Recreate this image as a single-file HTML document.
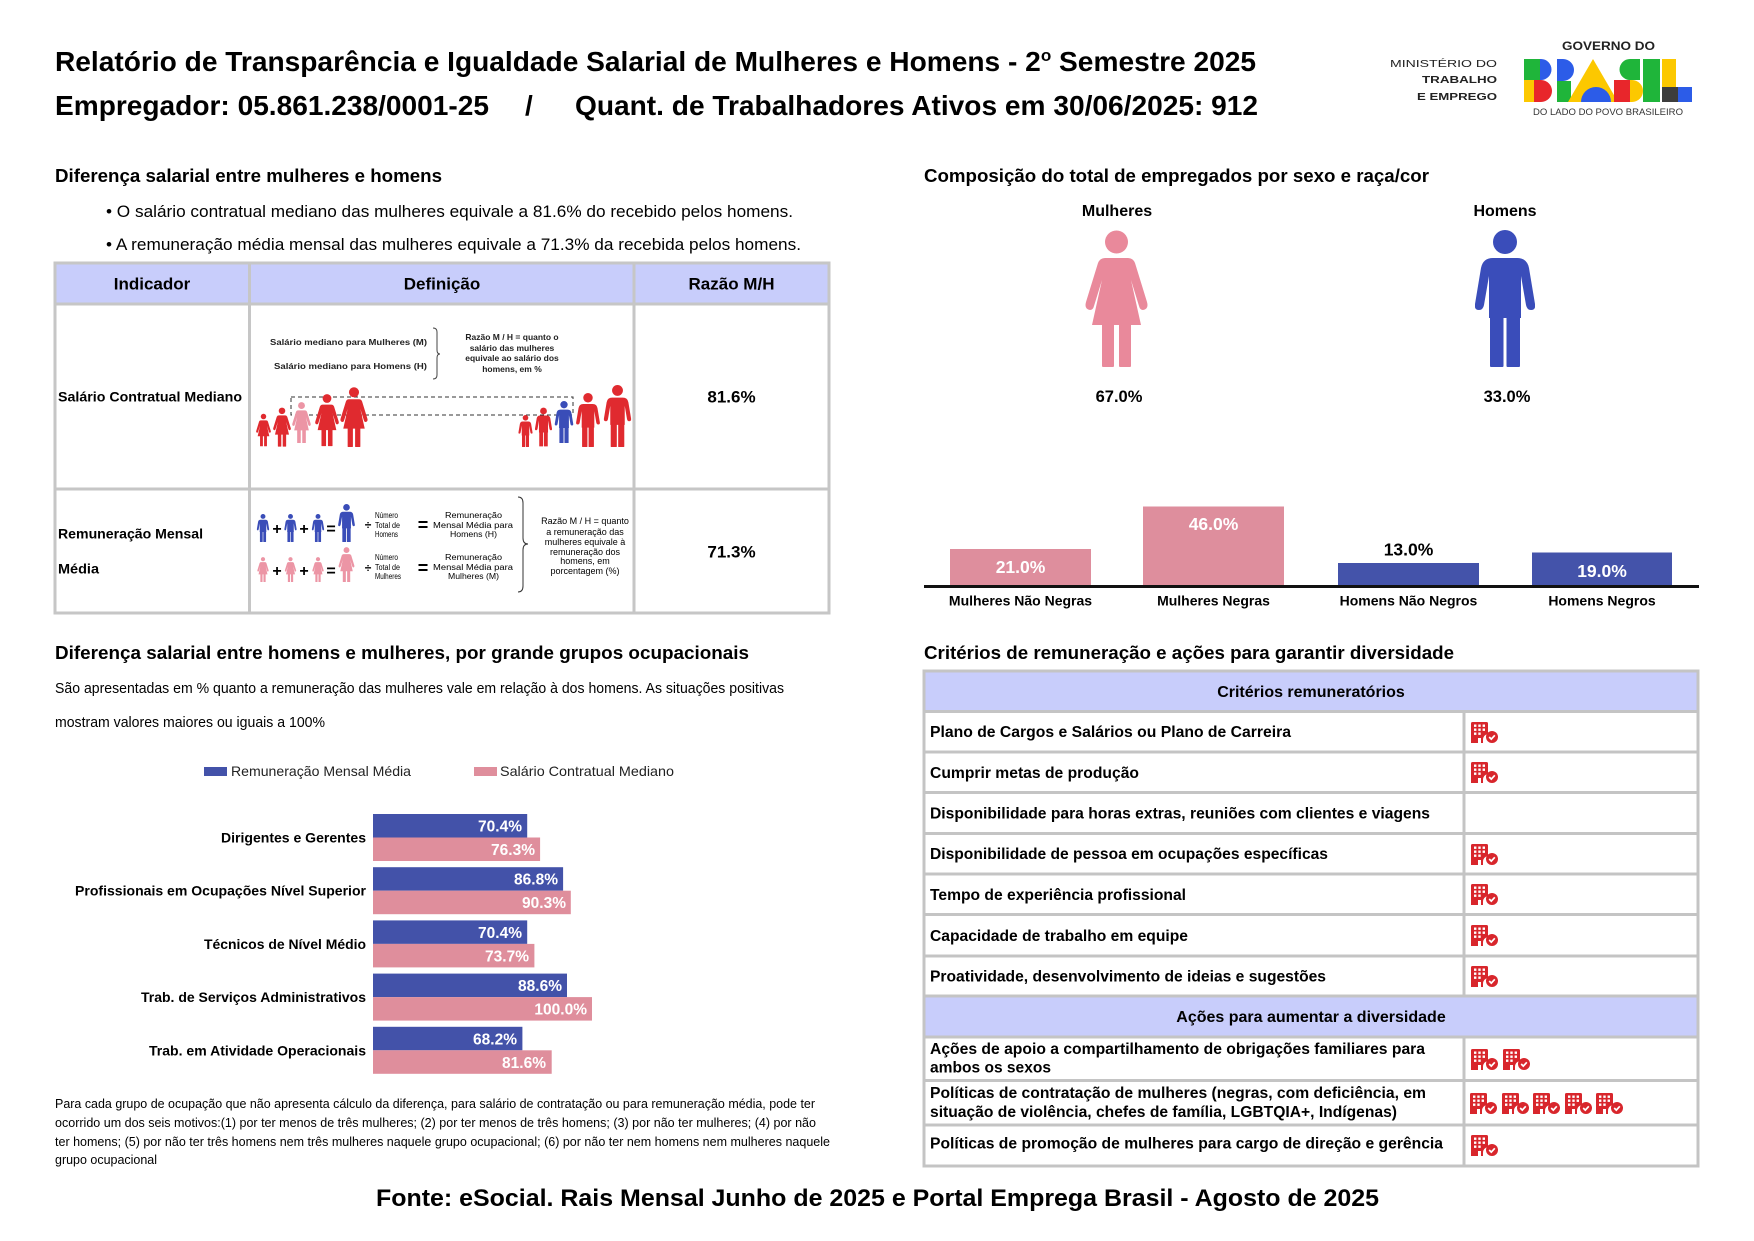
<!DOCTYPE html>
<html><head><meta charset="utf-8">
<style>
html,body{margin:0;padding:0;background:#fff;}
svg{display:block;}
text{font-family:"Liberation Sans",Arial,sans-serif;fill:#000;}
.b{font-weight:bold;}
.w{fill:#fff;}
</style></head><body>
<svg width="1754" height="1241" viewBox="0 0 1754 1241" xmlns="http://www.w3.org/2000/svg">
<defs>
<symbol id="wom" viewBox="0 0 63 137">
 <circle cx="31.5" cy="12" r="11.5"/>
 <path d="M20 28 H43 Q48 28 50 33 L62 72 Q64 79 58 80 Q55 80 54 76 L46 50 L56 95 H7 L17 50 L9 76 Q8 80 5 80 Q-1 79 1 72 L13 33 Q15 28 20 28Z"/>
 <rect x="17" y="92" width="12" height="45" rx="1"/>
 <rect x="34" y="92" width="12" height="45" rx="1"/>
</symbol>
<symbol id="man" viewBox="0 0 60 137">
 <circle cx="30" cy="12" r="12"/>
 <path d="M18 28 H42 Q52 28 54 38 L60 74 Q61 80 56 80 Q52 80 51 75 L46 46 V88 H14 V46 L9 75 Q8 80 4 80 Q-1 80 0 74 L6 38 Q8 28 18 28Z"/>
 <rect x="15" y="84" width="13.5" height="53" rx="1"/>
 <rect x="31.5" y="84" width="13.5" height="53" rx="1"/>
</symbol>
<symbol id="ic" viewBox="0 0 28 21">
 <path fill="#d8262c" d="M0 1.5 Q0 0 1.5 0 H15.5 Q17 0 17 1.5 V12 Q12 13 12 18 V21 H10 V16 H7 V21 H0Z"/>
 <g fill="#fff">
  <rect x="3" y="2.5" width="2.4" height="2.4"/><rect x="7.3" y="2.5" width="2.4" height="2.4"/><rect x="11.6" y="2.5" width="2.4" height="2.4"/>
  <rect x="3" y="6.5" width="2.4" height="2.4"/><rect x="7.3" y="6.5" width="2.4" height="2.4"/><rect x="11.6" y="6.5" width="2.4" height="2.4"/>
  <rect x="3" y="10.5" width="2.4" height="2.4"/><rect x="7.3" y="10.5" width="2.4" height="2.4"/>
 </g>
 <circle cx="21" cy="15" r="6" fill="#d8262c"/>
 <path d="M18.2 15 L20.3 17.1 L23.8 13.3" stroke="#fff" stroke-width="1.7" fill="none"/>
</symbol>
</defs>

<!-- Title -->
<text x="55" y="71" font-size="28" class="b" textLength="1201" lengthAdjust="spacingAndGlyphs">Relatório de Transparência e Igualdade Salarial de Mulheres e Homens - 2<tspan font-size="17" dy="-10">o</tspan><tspan dy="10"> Semestre 2025</tspan></text>
<text x="55" y="115" font-size="28" class="b" textLength="434" lengthAdjust="spacingAndGlyphs">Empregador: 05.861.238/0001-25</text>
<text x="525" y="115" font-size="28" class="b">/</text>
<text x="575" y="115" font-size="28" class="b" textLength="683" lengthAdjust="spacingAndGlyphs">Quant. de Trabalhadores Ativos em 30/06/2025: 912</text>

<!-- Logo -->
<text x="1390" y="67" font-size="10" textLength="107" lengthAdjust="spacingAndGlyphs" style="fill:#222">MINISTÉRIO DO</text>
<text x="1422" y="83" font-size="10" class="b" textLength="75" lengthAdjust="spacingAndGlyphs" style="fill:#222">TRABALHO</text>
<text x="1417" y="100" font-size="10" class="b" textLength="80" lengthAdjust="spacingAndGlyphs" style="fill:#222">E EMPREGO</text>
<text x="1562" y="50" font-size="11.5" class="b" textLength="93" lengthAdjust="spacingAndGlyphs" style="fill:#222">GOVERNO DO</text>
<g>
 <rect x="1524" y="59" width="16" height="21" fill="#1fb53a"/>
 <path d="M1540 59 h1 a10.5 10.5 0 0 1 0 21 h-1z" fill="#2c5ce8"/>
 <rect x="1524" y="80" width="10" height="22" fill="#fcc800"/>
 <rect x="1534" y="80" width="6" height="22" fill="#e8262b"/>
 <path d="M1540 80 h1 a11 11 0 0 1 0 22 h-1z" fill="#e8262b"/>
 <path d="M1557 59 h6 a11 11 0 0 1 0 22 h-6z" fill="#2c5ce8"/>
 <rect x="1557" y="81" width="14" height="21" fill="#1fb53a"/>
 <path d="M1568 102 L1593 59 L1618 102Z" fill="#fcc800"/>
 <path d="M1581 102 a15 15 0 0 1 30 0z" fill="#2c5ce8"/>
 <path d="M1640 59 h-10 a10.5 10.5 0 0 0 0 21 h10z" fill="#1fb53a"/>
 <rect x="1614" y="80" width="16" height="22" fill="#e8262b"/>
 <path d="M1630 80 h2 a11 11 0 0 1 0 22 h-2z" fill="#fcc800"/>
 <rect x="1643" y="59" width="17" height="43" fill="#1fb53a"/>
 <rect x="1662" y="59" width="14" height="28" fill="#fcc800"/>
 <rect x="1662" y="87" width="16" height="15" fill="#3d3d3d"/>
 <rect x="1678" y="87" width="14" height="15" fill="#2c5ce8"/>
</g>
<text x="1533" y="115" font-size="9.5" textLength="150" lengthAdjust="spacingAndGlyphs" style="fill:#333">DO LADO DO POVO BRASILEIRO</text>

<!-- Section 1 -->
<text x="55" y="182" font-size="18.5" class="b" textLength="387" lengthAdjust="spacingAndGlyphs">Diferença salarial entre mulheres e homens</text>
<text x="106" y="217" font-size="17" textLength="687" lengthAdjust="spacingAndGlyphs">• O salário contratual mediano das mulheres equivale a 81.6% do recebido pelos homens.</text>
<text x="106" y="250" font-size="17" textLength="695" lengthAdjust="spacingAndGlyphs">• A remuneração média mensal das mulheres equivale a 71.3% da recebida pelos homens.</text>

<!-- Table 1 -->
<rect x="55" y="263" width="774" height="41" fill="#c8cdfb"/>
<g stroke="#c6c6c6" stroke-width="3" fill="none">
 <rect x="55" y="263" width="774" height="350"/>
 <line x1="55" y1="304" x2="829" y2="304"/>
 <line x1="55" y1="489" x2="829" y2="489"/>
 <line x1="249.5" y1="263" x2="249.5" y2="613"/>
 <line x1="634" y1="263" x2="634" y2="613"/>
</g>
<text x="152" y="289.5" font-size="17" class="b" text-anchor="middle">Indicador</text>
<text x="442" y="289.5" font-size="17" class="b" text-anchor="middle">Definição</text>
<text x="731.5" y="289.5" font-size="17" class="b" text-anchor="middle">Razão M/H</text>
<text x="58" y="401.5" font-size="14" class="b" textLength="184" lengthAdjust="spacingAndGlyphs">Salário Contratual Mediano</text>
<text x="58" y="538.5" font-size="14" class="b" textLength="145" lengthAdjust="spacingAndGlyphs">Remuneração Mensal</text>
<text x="58" y="573.5" font-size="14" class="b" textLength="41" lengthAdjust="spacingAndGlyphs">Média</text>
<text x="731.5" y="402.5" font-size="17" class="b" text-anchor="middle">81.6%</text>
<text x="731.5" y="557.5" font-size="17" class="b" text-anchor="middle">71.3%</text>

<!-- Row 1 illustration -->
<text x="270" y="345" font-size="8.5" class="b" textLength="157" lengthAdjust="spacingAndGlyphs" style="fill:#222">Salário mediano para Mulheres (M)</text>
<text x="274" y="369" font-size="8.5" class="b" textLength="153" lengthAdjust="spacingAndGlyphs" style="fill:#222">Salário mediano para Homens (H)</text>
<path d="M433 328 Q437 328 437 332 V350 Q437 354 440 354 Q437 354 437 358 V375 Q437 379 433 379" stroke="#444" stroke-width="1" fill="none"/>
<g font-size="8.5" class="b" text-anchor="middle" style="fill:#222">
 <text x="512" y="340" class="b" style="fill:#222">Razão M / H = quanto o</text>
 <text x="512" y="351" class="b" style="fill:#222">salário das mulheres</text>
 <text x="512" y="361" class="b" style="fill:#222">equivale ao salário dos</text>
 <text x="512" y="372" class="b" style="fill:#222">homens, em %</text>
</g>
<rect x="291" y="397" width="282" height="18" fill="none" stroke="#333" stroke-width="1" stroke-dasharray="4,3"/>
<use href="#wom" x="256" y="413" width="15" height="34" fill="#e02a2f"/>
<use href="#wom" x="273" y="407" width="18" height="40" fill="#e02a2f"/>
<use href="#wom" x="292" y="402" width="19" height="41" fill="#ec95a5"/>
<use href="#wom" x="315" y="393" width="24" height="54" fill="#e02a2f"/>
<use href="#wom" x="340" y="387" width="28" height="60" fill="#e02a2f"/>
<use href="#man" x="518" y="415" width="15" height="32" fill="#e02a2f"/>
<use href="#man" x="535" y="407" width="17" height="40" fill="#e02a2f"/>
<use href="#man" x="553" y="401" width="22" height="42" fill="#3a4db8"/>
<use href="#man" x="576" y="393" width="24" height="54" fill="#e02a2f"/>
<use href="#man" x="603" y="385" width="29" height="62" fill="#e02a2f"/>

<!-- Row 2 illustration -->
<use href="#man" x="256" y="514" width="14" height="28" fill="#3a4db8"/>
<use href="#man" x="283" y="514" width="15" height="28" fill="#3a4db8"/>
<use href="#man" x="311" y="514" width="14" height="28" fill="#3a4db8"/>
<use href="#man" x="336" y="504" width="21" height="38" fill="#3a4db8"/>
<use href="#wom" x="256" y="557" width="14" height="25" fill="#ec95a5"/>
<use href="#wom" x="283" y="557" width="15" height="25" fill="#ec95a5"/>
<use href="#wom" x="311" y="557" width="14" height="25" fill="#ec95a5"/>
<use href="#wom" x="336" y="547" width="21" height="35" fill="#ec95a5"/>
<g font-size="16" class="b" text-anchor="middle">
 <text x="277" y="534" class="b">+</text><text x="304" y="534" class="b">+</text><text x="331" y="534" class="b">=</text>
 <text x="277" y="576" class="b">+</text><text x="304" y="576" class="b">+</text><text x="331" y="576" class="b">=</text>
 <text x="368" y="529" font-size="12">÷</text><text x="368" y="572" font-size="12">÷</text>
 <text x="423" y="531" font-size="18" class="b">=</text><text x="423" y="574" font-size="18" class="b">=</text>
</g>
<g font-size="8" style="fill:#111">
 <text x="375" y="518" font-size="8" textLength="23" lengthAdjust="spacingAndGlyphs">Número</text>
 <text x="375" y="528" font-size="8" textLength="25" lengthAdjust="spacingAndGlyphs">Total de</text>
 <text x="375" y="537" font-size="8" textLength="23" lengthAdjust="spacingAndGlyphs">Homens</text>
 <text x="375" y="560" font-size="8" textLength="23" lengthAdjust="spacingAndGlyphs">Número</text>
 <text x="375" y="570" font-size="8" textLength="25" lengthAdjust="spacingAndGlyphs">Total de</text>
 <text x="375" y="579" font-size="8" textLength="26" lengthAdjust="spacingAndGlyphs">Mulheres</text>
 <text x="445" y="518" font-size="8" textLength="57" lengthAdjust="spacingAndGlyphs">Remuneração</text>
 <text x="433" y="528" font-size="8" textLength="80" lengthAdjust="spacingAndGlyphs">Mensal Média para</text>
 <text x="450" y="537" font-size="8" textLength="47" lengthAdjust="spacingAndGlyphs">Homens (H)</text>
 <text x="445" y="560" font-size="8" textLength="57" lengthAdjust="spacingAndGlyphs">Remuneração</text>
 <text x="433" y="570" font-size="8" textLength="80" lengthAdjust="spacingAndGlyphs">Mensal Média para</text>
 <text x="448" y="579" font-size="8" textLength="51" lengthAdjust="spacingAndGlyphs">Mulheres (M)</text>
</g>
<path d="M518 497 Q523 497 523 503 V538 Q523 544 528 544 Q523 544 523 550 V586 Q523 592 518 592" stroke="#333" stroke-width="1" fill="none"/>
<g font-size="9" text-anchor="middle">
 <text x="585" y="524" font-size="9">Razão M / H = quanto</text>
 <text x="585" y="535" font-size="9">a remuneração das</text>
 <text x="585" y="545" font-size="9">mulheres equivale à</text>
 <text x="585" y="555" font-size="9">remuneração dos</text>
 <text x="585" y="564" font-size="9">homens, em</text>
 <text x="585" y="574" font-size="9">porcentagem (%)</text>
</g>

<!-- Section 2: composition -->
<text x="924" y="182" font-size="18.5" class="b" textLength="505" lengthAdjust="spacingAndGlyphs">Composição do total de empregados por sexo e raça/cor</text>
<text x="1117" y="216" font-size="16" class="b" text-anchor="middle">Mulheres</text>
<text x="1505" y="216" font-size="16" class="b" text-anchor="middle">Homens</text>
<use href="#wom" x="1085" y="230" width="63" height="137" fill="#e9899b"/>
<use href="#man" x="1475" y="230" width="60" height="137" fill="#3a4dba"/>
<text x="1119" y="402" font-size="16.5" class="b" text-anchor="middle">67.0%</text>
<text x="1507" y="402" font-size="16.5" class="b" text-anchor="middle">33.0%</text>

<rect x="950" y="549" width="141" height="36" fill="#de8e9d"/>
<rect x="1143" y="506.5" width="141" height="78.5" fill="#de8e9d"/>
<rect x="1338" y="563" width="141" height="22" fill="#4453aa"/>
<rect x="1532" y="552.5" width="140" height="32.5" fill="#4453aa"/>
<rect x="924" y="585" width="775" height="3" fill="#111"/>
<text x="1020.5" y="573" font-size="17.5" class="b w" text-anchor="middle">21.0%</text>
<text x="1213.5" y="530" font-size="17.5" class="b w" text-anchor="middle">46.0%</text>
<text x="1408.5" y="555.5" font-size="17.5" class="b" text-anchor="middle">13.0%</text>
<text x="1602" y="577" font-size="17.5" class="b w" text-anchor="middle">19.0%</text>
<g font-size="14" class="b" text-anchor="middle">
 <text x="1020.5" y="605.5" class="b">Mulheres Não Negras</text>
 <text x="1213.5" y="605.5" class="b">Mulheres Negras</text>
 <text x="1408.5" y="605.5" class="b">Homens Não Negros</text>
 <text x="1602" y="605.5" class="b">Homens Negros</text>
</g>

<!-- Section 3: bar chart -->
<text x="55" y="659" font-size="18.5" class="b" textLength="694" lengthAdjust="spacingAndGlyphs">Diferença salarial entre homens e mulheres, por grande grupos ocupacionais</text>
<text x="55" y="693" font-size="14.5" textLength="729" lengthAdjust="spacingAndGlyphs">São apresentadas em % quanto a remuneração das mulheres vale em relação à dos homens. As situações positivas</text>
<text x="55" y="727" font-size="14.5" textLength="270" lengthAdjust="spacingAndGlyphs">mostram valores maiores ou iguais a 100%</text>
<rect x="204" y="767" width="23" height="9" fill="#4352a9"/>
<text x="231" y="776" font-size="14" textLength="180" lengthAdjust="spacingAndGlyphs" style="fill:#222">Remuneração Mensal Média</text>
<rect x="474" y="767" width="23" height="9" fill="#df8e9c"/>
<text x="500" y="776" font-size="14" textLength="174" lengthAdjust="spacingAndGlyphs" style="fill:#222">Salário Contratual Mediano</text>

<g>
 <rect x="373" y="814" width="154.2" height="23.5" fill="#4352a9"/>
 <rect x="373" y="837.5" width="167.1" height="23.5" fill="#df8e9c"/>
 <rect x="373" y="867.2" width="190.1" height="23.5" fill="#4352a9"/>
 <rect x="373" y="890.7" width="197.8" height="23.5" fill="#df8e9c"/>
 <rect x="373" y="920.4" width="154.2" height="23.5" fill="#4352a9"/>
 <rect x="373" y="943.9" width="161.4" height="23.5" fill="#df8e9c"/>
 <rect x="373" y="973.6" width="194.0" height="23.5" fill="#4352a9"/>
 <rect x="373" y="997.1" width="219" height="23.5" fill="#df8e9c"/>
 <rect x="373" y="1026.8" width="149.4" height="23.5" fill="#4352a9"/>
 <rect x="373" y="1050.3" width="178.7" height="23.5" fill="#df8e9c"/>
</g>
<g font-size="15.5" class="b w" text-anchor="end">
 <text x="522" y="831.5" class="b w">70.4%</text>
 <text x="535" y="855" class="b w">76.3%</text>
 <text x="558" y="884.7" class="b w">86.8%</text>
 <text x="566" y="908.2" class="b w">90.3%</text>
 <text x="522" y="937.9" class="b w">70.4%</text>
 <text x="529" y="961.4" class="b w">73.7%</text>
 <text x="562" y="991.1" class="b w">88.6%</text>
 <text x="587" y="1014.6" class="b w">100.0%</text>
 <text x="517" y="1044.3" class="b w">68.2%</text>
 <text x="546" y="1067.8" class="b w">81.6%</text>
</g>
<g font-size="14" class="b">
 <text x="221" y="842.5" class="b" textLength="145" lengthAdjust="spacingAndGlyphs">Dirigentes e Gerentes</text>
 <text x="75" y="895.7" class="b" textLength="291" lengthAdjust="spacingAndGlyphs">Profissionais em Ocupações Nível Superior</text>
 <text x="204" y="948.9" class="b" textLength="162" lengthAdjust="spacingAndGlyphs">Técnicos de Nível Médio</text>
 <text x="141" y="1002.1" class="b" textLength="225" lengthAdjust="spacingAndGlyphs">Trab. de Serviços Administrativos</text>
 <text x="149" y="1055.3" class="b" textLength="217" lengthAdjust="spacingAndGlyphs">Trab. em Atividade Operacionais</text>
</g>

<g font-size="12.5" style="fill:#111">
 <text x="55" y="1108" font-size="12.5" textLength="760" lengthAdjust="spacingAndGlyphs">Para cada grupo de ocupação que não apresenta cálculo da diferença, para salário de contratação ou para remuneração média, pode ter</text>
 <text x="55" y="1127" font-size="12.5" textLength="761" lengthAdjust="spacingAndGlyphs">ocorrido um dos seis motivos:(1) por ter menos de três mulheres; (2) por ter menos de três homens; (3) por não ter mulheres; (4) por não</text>
 <text x="55" y="1146" font-size="12.5" textLength="775" lengthAdjust="spacingAndGlyphs">ter homens; (5) por não ter três homens nem três mulheres naquele grupo ocupacional; (6) por não ter nem homens nem mulheres naquele</text>
 <text x="55" y="1164" font-size="12.5" textLength="102" lengthAdjust="spacingAndGlyphs">grupo ocupacional</text>
</g>

<!-- Section 4: criteria -->
<text x="924" y="659" font-size="18.5" class="b" textLength="530" lengthAdjust="spacingAndGlyphs">Critérios de remuneração e ações para garantir diversidade</text>
<rect x="924" y="671" width="774" height="40.5" fill="#c8cdfb"/>
<rect x="924" y="996" width="774" height="41" fill="#c8cdfb"/>
<g stroke="#c4c4c4" stroke-width="3" fill="none">
 <rect x="924" y="671" width="774" height="495"/>
 <line x1="924" y1="711.5" x2="1698" y2="711.5"/>
 <line x1="924" y1="752" x2="1698" y2="752"/>
 <line x1="924" y1="792.5" x2="1698" y2="792.5"/>
 <line x1="924" y1="833.5" x2="1698" y2="833.5"/>
 <line x1="924" y1="874" x2="1698" y2="874"/>
 <line x1="924" y1="914.5" x2="1698" y2="914.5"/>
 <line x1="924" y1="956" x2="1698" y2="956"/>
 <line x1="924" y1="996" x2="1698" y2="996"/>
 <line x1="924" y1="1037" x2="1698" y2="1037"/>
 <line x1="924" y1="1080.5" x2="1698" y2="1080.5"/>
 <line x1="924" y1="1125" x2="1698" y2="1125"/>
 <line x1="1464" y1="711.5" x2="1464" y2="996"/>
 <line x1="1464" y1="1037" x2="1464" y2="1166"/>
</g>
<text x="1311" y="697" font-size="16" class="b" text-anchor="middle">Critérios remuneratórios</text>
<text x="1311" y="1022" font-size="16" class="b" text-anchor="middle">Ações para aumentar a diversidade</text>
<g font-size="15.5" class="b">
 <text x="930" y="737" class="b" textLength="361" lengthAdjust="spacingAndGlyphs">Plano de Cargos e Salários ou Plano de Carreira</text>
 <text x="930" y="778" class="b" textLength="209" lengthAdjust="spacingAndGlyphs">Cumprir metas de produção</text>
 <text x="930" y="818.5" class="b" textLength="500" lengthAdjust="spacingAndGlyphs">Disponibilidade para horas extras, reuniões com clientes e viagens</text>
 <text x="930" y="859" class="b" textLength="398" lengthAdjust="spacingAndGlyphs">Disponibilidade de pessoa em ocupações específicas</text>
 <text x="930" y="900" class="b" textLength="256" lengthAdjust="spacingAndGlyphs">Tempo de experiência profissional</text>
 <text x="930" y="941" class="b" textLength="258" lengthAdjust="spacingAndGlyphs">Capacidade de trabalho em equipe</text>
 <text x="930" y="981.5" class="b" textLength="396" lengthAdjust="spacingAndGlyphs">Proatividade, desenvolvimento de ideias e sugestões</text>
 <text x="930" y="1054" class="b" textLength="495" lengthAdjust="spacingAndGlyphs">Ações de apoio a compartilhamento de obrigações familiares para</text>
 <text x="930" y="1072.5" class="b" textLength="121" lengthAdjust="spacingAndGlyphs">ambos os sexos</text>
 <text x="930" y="1098" class="b" textLength="496" lengthAdjust="spacingAndGlyphs">Políticas de contratação de mulheres (negras, com deficiência, em</text>
 <text x="930" y="1117" class="b" textLength="467" lengthAdjust="spacingAndGlyphs">situação de violência, chefes de família, LGBTQIA+, Indígenas)</text>
 <text x="930" y="1148.5" class="b" textLength="513" lengthAdjust="spacingAndGlyphs">Políticas de promoção de mulheres para cargo de direção e gerência</text>
</g>
<g>
 <use href="#ic" x="1471" y="722" width="28" height="21"/>
 <use href="#ic" x="1471" y="762" width="28" height="21"/>
 <use href="#ic" x="1471" y="844" width="28" height="21"/>
 <use href="#ic" x="1471" y="884" width="28" height="21"/>
 <use href="#ic" x="1471" y="925" width="28" height="21"/>
 <use href="#ic" x="1471" y="966" width="28" height="21"/>
 <use href="#ic" x="1471" y="1049" width="28" height="21"/>
 <use href="#ic" x="1503" y="1049" width="28" height="21"/>
 <use href="#ic" x="1470" y="1093" width="28" height="21"/>
 <use href="#ic" x="1502" y="1093" width="28" height="21"/>
 <use href="#ic" x="1533" y="1093" width="28" height="21"/>
 <use href="#ic" x="1565" y="1093" width="28" height="21"/>
 <use href="#ic" x="1596" y="1093" width="28" height="21"/>
 <use href="#ic" x="1471" y="1135" width="28" height="21"/>
</g>

<!-- Footer -->
<text x="376" y="1206" font-size="24" class="b" textLength="1003" lengthAdjust="spacingAndGlyphs">Fonte: eSocial. Rais Mensal Junho de 2025 e Portal Emprega Brasil - Agosto de 2025</text>
</svg>
</body></html>
